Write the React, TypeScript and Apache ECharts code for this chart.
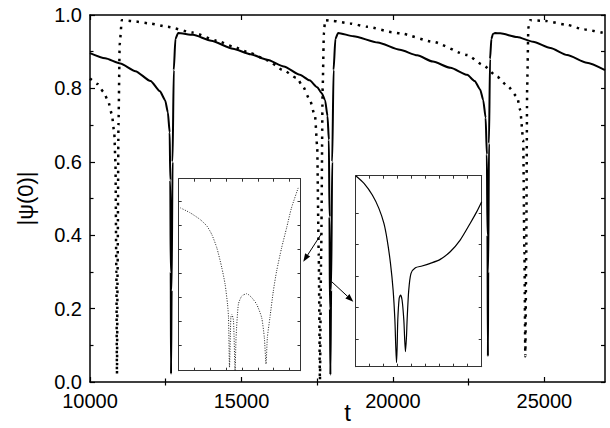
import React, { useEffect, useRef } from "react";
import * as echarts from "echarts";

// ---- main chart data ----
const solidT = [
  10000, 10500, 11000, 11500, 12000, 12310, 12480, 12570, 12630, 12650, 12665, 12675, 12695, 12725, 12765, 12820, 12910,
  13400, 14000, 14720, 15300, 15850, 16400, 16930, 17250, 17500, 17650, 17760, 17840, 17885, 17905, 17920, 17935, 17960, 17995, 18040, 18100, 18190,
  18700, 19500, 20230, 20800, 21320, 21900, 22450, 22700, 22880, 22980, 23060, 23100, 23120, 23135, 23145, 23170, 23205, 23250, 23300, 23370,
  23540, 24100, 24625, 25200, 25750, 26400, 27000,
];
const solidPsi = [
  0.896, 0.882, 0.868, 0.847, 0.82, 0.792, 0.768, 0.735, 0.68, 0.55, 0.3, 0.022, 0.25, 0.6, 0.85, 0.935, 0.951,
  0.946, 0.93, 0.908, 0.893, 0.878, 0.86, 0.837, 0.822, 0.803, 0.787, 0.768, 0.725, 0.66, 0.45, 0.2, 0.02, 0.25, 0.6, 0.85, 0.935, 0.951,
  0.942, 0.925, 0.905, 0.89, 0.873, 0.856, 0.837, 0.82, 0.797, 0.768, 0.72, 0.62, 0.4, 0.07, 0.3, 0.65, 0.88, 0.935, 0.948, 0.951,
  0.95, 0.94, 0.927, 0.91, 0.891, 0.87, 0.85,
];

const dottedT = [
  10000, 10250, 10450, 10600, 10720, 10800, 10840, 10870, 10890, 10910, 10940, 10980, 11050,
  11420, 11980, 12540, 13400, 14190, 14720, 15300, 15840, 16370, 16830, 17030, 17260, 17430, 17500, 17550, 17590, 17630, 17680, 17720, 17760,
  18020, 18580, 19150, 20000, 20230, 21320, 22450, 22970, 23440, 23800, 24100, 24200, 24300, 24340, 24370, 24400, 24430, 24470, 24530,
  25020, 25750, 26280, 27000,
];
const dottedPsi = [
  0.827, 0.812, 0.79, 0.765, 0.73, 0.68, 0.6, 0.3, 0.022, 0.3, 0.7, 0.92, 0.986,
  0.983, 0.977, 0.968, 0.952, 0.93, 0.914, 0.896, 0.877, 0.85, 0.828, 0.805, 0.768, 0.723, 0.64, 0.35, 0.005, 0.35, 0.8, 0.95, 0.986,
  0.984, 0.977, 0.968, 0.953, 0.95, 0.927, 0.891, 0.864, 0.832, 0.805, 0.777, 0.741, 0.659, 0.35, 0.07, 0.35, 0.8, 0.965, 0.986,
  0.984, 0.973, 0.961, 0.95,
];

const xMajorTicks = [10000, 15000, 20000, 25000];
const xMinorTicks = [12500, 17500, 22500];

// ---- inset 1 (dotted curve, arbitrary units) ----
const inset1X = [1.4, 9.5, 17.7, 23.2, 27.2, 31.3, 35.4, 38.1, 40.1, 40.9, 41.7, 42.8, 43.6, 45.0, 46.3, 47.1, 49.0, 51.8, 55.9, 59.9, 64.0, 68.1, 70.3, 71.7, 72.8, 74.9, 77.7, 80.4, 84.5, 88.6, 92.6, 98.1];
const inset1Y = [0.848, 0.822, 0.787, 0.753, 0.709, 0.64, 0.536, 0.45, 0.346, 0.277, 0.017, 0.277, 0.294, 0.26, 0.0, 0.173, 0.346, 0.389, 0.401, 0.381, 0.346, 0.277, 0.173, 0.035, 0.173, 0.277, 0.415, 0.519, 0.64, 0.744, 0.848, 0.952];
const inset1XTicks = [13, 26, 39, 52, 65, 78, 91];
const inset1YTicks = [0.13, 0.256, 0.381, 0.507, 0.632, 0.758, 0.883];

// ---- inset 2 (solid curve, arbitrary units) ----
const inset2X = [0, 6.6, 13.2, 18.4, 22.4, 25.0, 27.6, 29.7, 31.1, 31.8, 32.4, 32.9, 33.4, 34.5, 35.5, 36.8, 38.2, 38.9, 39.5, 40.3, 40.8, 42.1, 43.9, 47.4, 52.6, 59.2, 67.1, 75.0, 82.9, 90.8, 96.1, 100];
const inset2Y = [1.0, 0.96, 0.899, 0.829, 0.75, 0.663, 0.541, 0.401, 0.244, 0.105, 0.021, 0.105, 0.244, 0.358, 0.375, 0.349, 0.244, 0.14, 0.079, 0.157, 0.244, 0.401, 0.489, 0.518, 0.527, 0.541, 0.562, 0.602, 0.663, 0.75, 0.812, 0.864];
const inset2XTicks = [11.11, 22.22, 33.33, 44.44, 55.56, 66.67, 77.78, 88.89];
const inset2YTicks = [0.145, 0.31, 0.474, 0.639, 0.803];

const zip = (a: number[], b: number[]) => a.map((v, i) => [v, b[i]]);

const FONT = "Liberation Sans, Arial, sans-serif";

function arrow(x1: number, y1: number, x2: number, y2: number) {
  const dx = x2 - x1, dy = y2 - y1;
  const L = Math.hypot(dx, dy);
  const ux = dx / L, uy = dy / L;
  const hl = 8, hw = 3;
  const bx = x2 - ux * hl, by = y2 - uy * hl;
  return [
    { type: "line", z: 100, shape: { x1, y1, x2: bx, y2: by }, style: { stroke: "#000", lineWidth: 1 } },
    {
      type: "polygon", z: 100,
      shape: { points: [[x2, y2], [bx - uy * hw, by + ux * hw], [bx + uy * hw, by - ux * hw]] },
      style: { fill: "#000" },
    },
  ];
}

function frameAxis(gridIndex: number, pos: string, min: number, max: number, ticks: number[]) {
  return {
    type: "value", gridIndex, position: pos, min, max,
    axisLine: { show: true, onZero: false, lineStyle: { color: "#333", width: 1 } },
    axisTick: { show: true, inside: true, length: 3, customValues: ticks, lineStyle: { color: "#333", width: 1 } },
    axisLabel: { show: false },
    splitLine: { show: false },
  };
}

export default function App() {
  const ref = useRef<HTMLDivElement>(null);
  useEffect(() => {
    if (!ref.current) return;
    const chart = echarts.init(ref.current, null, { renderer: "svg" });
    const axisLine = { show: true, onZero: false, lineStyle: { color: "#000", width: 1.5 } };
    const option: any = {
      animation: false,
      backgroundColor: "#fff",
      grid: [
        { left: 90, right: 5, top: 15, bottom: 46, outerBoundsMode: "none", containLabel: false },
        { left: 178.7, top: 178.7, width: 121.8, height: 192, show: true, backgroundColor: "#fff", borderWidth: 0, outerBoundsMode: "none", containLabel: false },
        { left: 355.7, top: 175.7, width: 126, height: 191, show: true, backgroundColor: "#fff", borderWidth: 0, outerBoundsMode: "none", containLabel: false },
      ],
      xAxis: [
        {
          type: "value", gridIndex: 0, position: "bottom", min: 10000, max: 27000,
          axisLine,
          axisTick: { show: true, inside: true, length: 5, customValues: xMajorTicks, lineStyle: { color: "#000", width: 1.2 } },
          axisLabel: { show: true, customValues: xMajorTicks, fontSize: 20, color: "#000", fontFamily: FONT, margin: 9, formatter: (v: number) => String(v) },
          splitLine: { show: false },
          name: "t", nameLocation: "middle", nameGap: 18, nameMoveOverlap: false,
          nameTextStyle: { fontSize: 24, color: "#000", fontFamily: FONT },
        },
        {
          type: "value", gridIndex: 0, position: "bottom", min: 10000, max: 27000,
          axisLine: { show: false },
          axisTick: { show: true, inside: true, length: 3.5, customValues: xMinorTicks, lineStyle: { color: "#000", width: 1.2 } },
          axisLabel: { show: false }, splitLine: { show: false },
        },
        {
          type: "value", gridIndex: 0, position: "top", min: 10000, max: 27000,
          axisLine,
          axisTick: { show: true, inside: true, length: 5, customValues: xMajorTicks, lineStyle: { color: "#000", width: 1.2 } },
          axisLabel: { show: false }, splitLine: { show: false },
        },
        {
          type: "value", gridIndex: 0, position: "top", min: 10000, max: 27000,
          axisLine: { show: false },
          axisTick: { show: true, inside: true, length: 3.5, customValues: xMinorTicks, lineStyle: { color: "#000", width: 1.2 } },
          axisLabel: { show: false }, splitLine: { show: false },
        },
        frameAxis(1, "bottom", 0, 100, inset1XTicks),
        frameAxis(1, "top", 0, 100, inset1XTicks),
        frameAxis(2, "bottom", 0, 100, inset2XTicks),
        frameAxis(2, "top", 0, 100, inset2XTicks),
      ],
      yAxis: [
        {
          type: "value", gridIndex: 0, position: "left", min: 0, max: 1, interval: 0.2,
          axisLine,
          axisTick: { show: true, inside: true, length: 5, lineStyle: { color: "#000", width: 1.2 } },
          minorTick: { show: true, splitNumber: 2, length: 3.5, lineStyle: { color: "#000", width: 1.2 } },
          axisLabel: { show: true, fontSize: 20, color: "#000", fontFamily: FONT, margin: 8, formatter: (v: number) => v.toFixed(1) },
          splitLine: { show: false },
          name: "|ψ(0)|", nameLocation: "middle", nameGap: 54, nameRotate: 90, nameMoveOverlap: false,
          nameTextStyle: { fontSize: 22, color: "#000", fontFamily: FONT },
        },
        {
          type: "value", gridIndex: 0, position: "right", min: 0, max: 1, interval: 0.2,
          axisLine,
          axisTick: { show: true, inside: true, length: 4, lineStyle: { color: "#000", width: 1.2 } },
          minorTick: { show: true, splitNumber: 2, length: 4, lineStyle: { color: "#000", width: 1.2 } },
          axisLabel: { show: false }, splitLine: { show: false },
        },
        frameAxis(1, "left", 0, 1, inset1YTicks),
        frameAxis(1, "right", 0, 1, inset1YTicks),
        frameAxis(2, "left", 0, 1, inset2YTicks),
        frameAxis(2, "right", 0, 1, inset2YTicks),
      ],
      series: [
        {
          type: "line", xAxisIndex: 0, yAxisIndex: 0, data: zip(dottedT, dottedPsi),
          showSymbol: false, symbol: "none", smooth: 0.2, smoothMonotone: "x", clip: true,
          lineStyle: { color: "#000", width: 2.5, type: [2.5, 5.5], cap: "butt" },
          z: 3,
        },
        {
          type: "line", xAxisIndex: 0, yAxisIndex: 0, data: zip(solidT, solidPsi),
          showSymbol: false, symbol: "none", smooth: 0.2, smoothMonotone: "x", clip: true,
          lineStyle: { color: "#000", width: 2 },
          z: 4,
        },
        {
          type: "line", xAxisIndex: 4, yAxisIndex: 2, data: zip(inset1X, inset1Y),
          showSymbol: false, symbol: "none", smooth: 0.2, clip: true,
          lineStyle: { color: "#222", width: 1, type: [1, 1.5] },
          z: 5,
        },
        {
          type: "line", xAxisIndex: 6, yAxisIndex: 4, data: zip(inset2X, inset2Y),
          showSymbol: false, symbol: "none", smooth: 0.25, clip: true,
          lineStyle: { color: "#000", width: 1.2 },
          z: 5,
        },
      ],
      graphic: [
        ...arrow(321.7, 233.3, 303.3, 261.7),
        ...arrow(331.7, 281.7, 353.3, 301.7),
      ],
    };
    chart.setOption(option);
    return () => chart.dispose();
  }, []);
  return (
    <div
      ref={ref}
      style={{ position: "absolute", left: 0, top: 0, width: 610, height: 428, background: "#fff" }}
    />
  );
}
